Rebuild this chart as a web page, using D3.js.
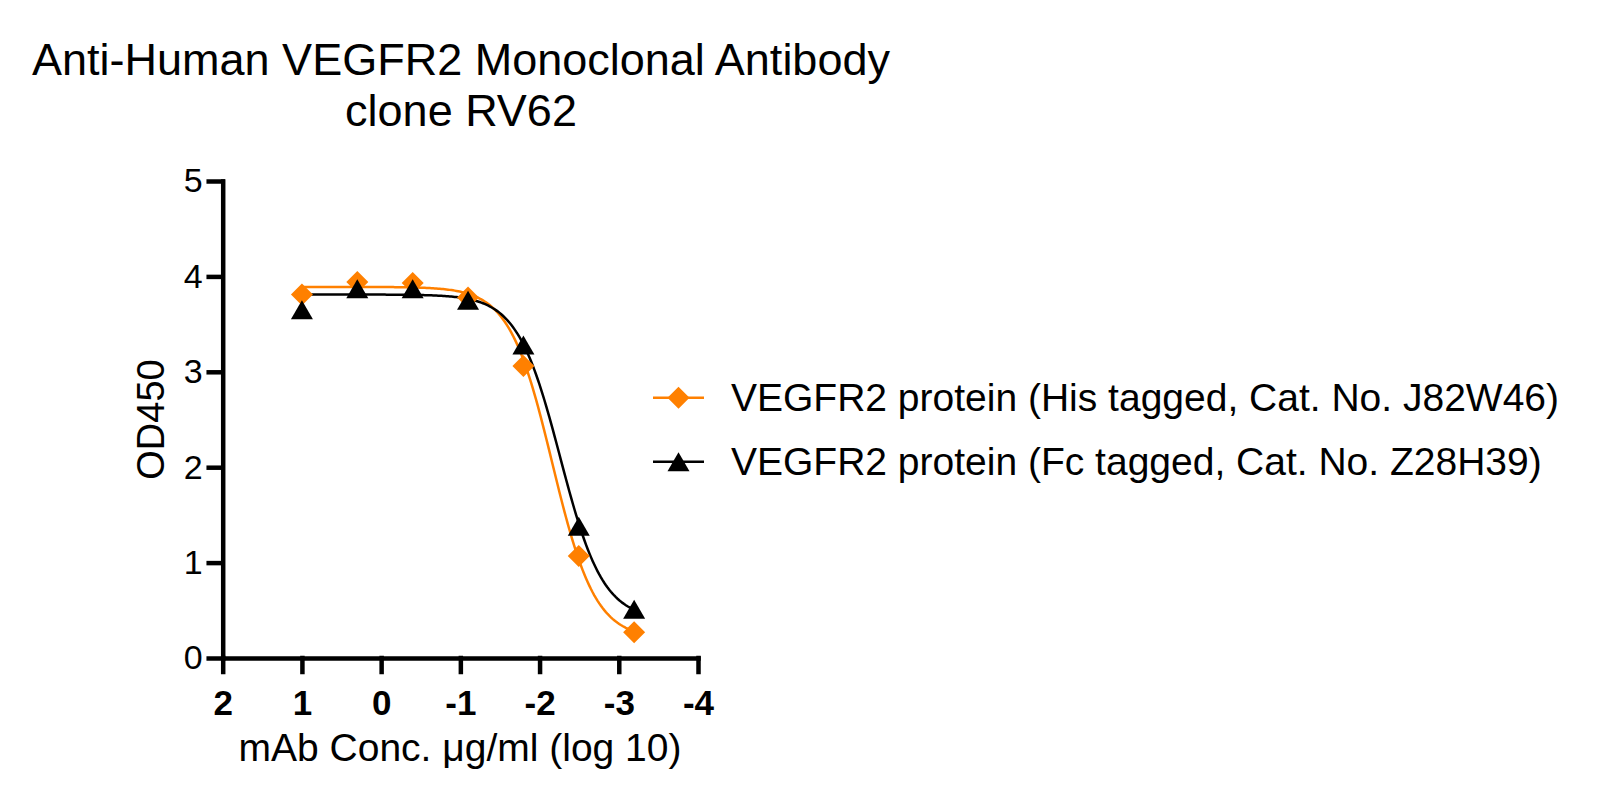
<!DOCTYPE html>
<head>
  <meta charset="utf-8">
  <script src="https://d3js.org/d3.v7.min.js"></script>
  <style>
    body { margin: 0; background: #fff; }
    svg { width: 1600px; height: 808px; display: block; }
    text { font-family: "Liberation Sans", Arial, sans-serif; fill: #000; }
  </style>
</head>

<body>
  <svg></svg>
  <script>
    // log10 of mAb concentration (5-fold dilutions from 10 ug/ml)
    var logConc = [1, 0.301, -0.398, -1.097, -1.796, -2.495, -3.194];
    var hisOD = [3.81, 3.94, 3.93, 3.78, 3.06, 1.07, 0.27];
    var fcOD = [3.65, 3.87, 3.87, 3.75, 3.28, 1.38, 0.51];
    // 4PL fit: top, bottom, logEC50, hill
    var hisFit = [3.89, 0.20, -2.16, 1.6];
    var fcFit = [3.81, 0.40, -2.26, 1.6];
    var seriesNames = ['VEGFR2 protein (His tagged, Cat. No. J82W46)',
                       'VEGFR2 protein (Fc tagged, Cat. No. Z28H39)'];
    var xTicks = [2, 1, 0, -1, -2, -3, -4];
    var yTicks = [0, 1, 2, 3, 4, 5];

    var orange = '#ff8000';
    var svg = d3.select('svg');

    var x = d3.scaleLinear().domain([2, -4]).range([222.7, 698]);
    var y = d3.scaleLinear().domain([0, 5]).range([658, 181]);

    // title
    svg.append('text').attr('x', 461).attr('y', 75)
      .attr('text-anchor', 'middle').style('font-size', '45px')
      .text('Anti-Human VEGFR2 Monoclonal Antibody');
    svg.append('text').attr('x', 461).attr('y', 126)
      .attr('text-anchor', 'middle').style('font-size', '45px')
      .text('clone RV62');

    // axes
    var yAxis = svg.append('g').attr('class', 'axis')
      .attr('transform', 'translate(' + x(2) + ',0)')
      .call(d3.axisLeft(y).tickValues(yTicks).tickFormat(d3.format('d'))
        .tickSize(14).tickSizeOuter(0).tickPadding(6));
    yAxis.selectAll('text').style('font-size', '34px');

    var xAxis = svg.append('g').attr('class', 'axis')
      .attr('transform', 'translate(0,' + y(0) + ')')
      .call(d3.axisBottom(x).tickValues(xTicks).tickSize(14).tickSizeOuter(0)
        .tickFormat(function(d) { return d < 0 ? '-' + Math.abs(d) : d; }));
    xAxis.selectAll('text').style('font-size', '35px').style('font-weight', 'bold')
      .attr('y', 57).attr('dy', 0);
    svg.selectAll('.axis .domain, .axis line')
      .attr('fill', 'none').attr('stroke', '#000')
      .attr('stroke-width', 4.5).attr('stroke-linecap', 'square');

    svg.append('text').attr('x', 460).attr('y', 761)
      .attr('text-anchor', 'middle').style('font-size', '39px')
      .text('mAb Conc. \u03bcg/ml (log 10)');
    svg.append('text')
      .attr('transform', 'translate(164,419.5)rotate(-90)')
      .attr('text-anchor', 'middle').style('font-size', '38px')
      .text('OD450');

    // fitted curves
    function fourPL(p) {
      return function(t) {
        return p[1] + (p[0] - p[1]) / (1 + Math.pow(10, (p[2] - t) * p[3]));
      };
    }
    var xs = d3.range(0, 201).map(function(i) {
      return logConc[0] + (logConc[logConc.length - 1] - logConc[0]) * i / 200;
    });
    var line = d3.line().x(function(d) { return x(d[0]); }).y(function(d) { return y(d[1]); });

    [[hisFit, orange], [fcFit, '#000']].forEach(function(s) {
      var f = fourPL(s[0]);
      svg.append('path')
        .datum(xs.map(function(t) { return [t, f(t)]; }))
        .attr('d', line).attr('fill', 'none')
        .attr('stroke', s[1]).attr('stroke-width', 2.5);
    });

    // markers
    var diamond = 'M0,-11L11,0L0,11L-11,0Z';
    var triangle = 'M0,-9.5L11,9.5L-11,9.5Z';

    svg.selectAll('path.his').data(d3.zip(logConc, hisOD)).enter().append('path')
      .attr('class', 'his').attr('d', diamond).attr('fill', orange)
      .attr('transform', function(d) { return 'translate(' + x(d[0]) + ',' + y(d[1]) + ')'; });

    svg.selectAll('path.fc').data(d3.zip(logConc, fcOD)).enter().append('path')
      .attr('class', 'fc').attr('d', triangle).attr('fill', '#000')
      .attr('transform', function(d) { return 'translate(' + x(d[0]) + ',' + y(d[1]) + ')'; });

    // legend
    var legend = svg.append('g');
    var rows = legend.selectAll('g').data(seriesNames).enter().append('g')
      .attr('transform', function(d, i) { return 'translate(0,' + (397.7 + i * 64) + ')'; });
    rows.append('line').attr('x1', 653).attr('x2', 704)
      .attr('stroke', function(d, i) { return i ? '#000' : orange; })
      .attr('stroke-width', 2.5);
    rows.append('path')
      .attr('d', function(d, i) { return i ? triangle : diamond; })
      .attr('fill', function(d, i) { return i ? '#000' : orange; })
      .attr('transform', 'translate(678.5,0)');
    rows.append('text').attr('x', 731).attr('y', 13)
      .style('font-size', '39px')
      .text(function(d) { return d; });
  </script>
</body>
